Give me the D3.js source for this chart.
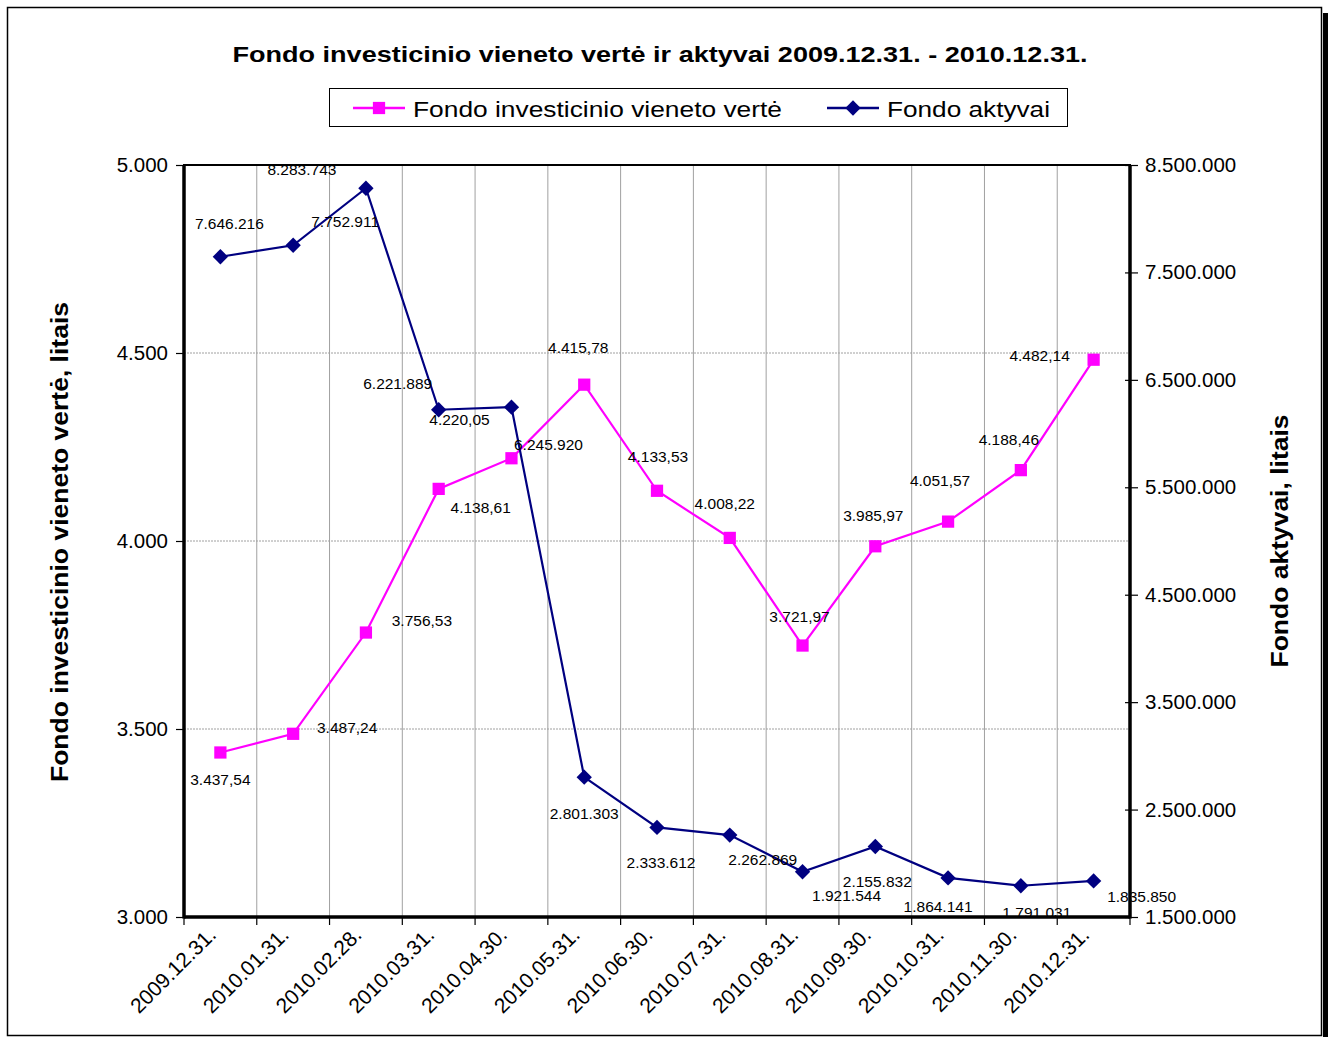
<!DOCTYPE html>
<html>
<head>
<meta charset="utf-8">
<script src="https://cdn.jsdelivr.net/npm/d3@7"></script>
<style>
  body { margin: 0; background: #fff; }
  text { font-family: "Liberation Sans", Arial, sans-serif; fill: #000; }
</style>
</head>
<body>
<div id="chart"></div>
<script>
// kategorijos ir reikšmės
const dates = ["2009.12.31.", "2010.01.31.", "2010.02.28.", "2010.03.31.", "2010.04.30.",
  "2010.05.31.", "2010.06.30.", "2010.07.31.", "2010.08.31.", "2010.09.30.",
  "2010.10.31.", "2010.11.30.", "2010.12.31."];
const unitValue = [3437.54, 3487.24, 3756.53, 4138.61, 4220.05, 4415.78, 4133.53,
  4008.22, 3721.97, 3985.97, 4051.57, 4188.46, 4482.14];
const assets = [7646216, 7752911, 8283743, 6221889, 6245920, 2801303, 2333612,
  2262869, 1921544, 2155832, 1864141, 1791031, 1835850];
const leftTicks = [3000, 3500, 4000, 4500, 5000];
const rightTicks = [1500000, 2500000, 3500000, 4500000, 5500000, 6500000, 7500000, 8500000];

// etikečių poslinkiai nuo taško (kaip originale, rankiniu būdu sustumdyti)
const valueLabelOffsets = [[0, 27], [54, -6], [56, -12], [42, 19], [-52, -39], [-6, -37],
  [1, -34], [-5, -34], [-3, -29], [-2, -31], [-8, -41], [-12, -31], [-54, -4]];
const assetLabelOffsets = [[9, -33], [52, -24], [-64, -19], [-41, -26], [37, 37], [0, 36],
  [4, 35], [33, 24], [44, 24], [2, 35], [-10, 29], [16, 27], [48, 16]];

const W = 1331, H = 1037;
const plot = { left: 184, right: 1130, top: 165, bottom: 917 };
const PINK = "#ff00ff", NAVY = "#000080";

const lt = d3.formatLocale({ decimal: ",", thousands: ".", grouping: [3], currency: ["", ""] });
const fmtInt = lt.format(",d");
const fmtDec = lt.format(",.2f");

const svg = d3.select("#chart").append("svg")
  .attr("width", W).attr("height", H);

// rėmelis su šešėliu
svg.append("rect").attr("x", 1323).attr("y", 13).attr("width", 5).attr("height", H - 13)
  .attr("fill", "#000");
svg.append("rect").attr("x", 7.5).attr("y", 7.5).attr("width", 1314).attr("height", 1028)
  .attr("fill", "#fff").attr("stroke", "#000").attr("stroke-width", 1.5);

const x = d3.scaleBand().domain(dates).range([plot.left, plot.right]).padding(0);
const yL = d3.scaleLinear().domain([3000, 5000]).range([plot.bottom, plot.top]);
const yR = d3.scaleLinear().domain([1500000, 8500000]).range([plot.bottom, plot.top]);
const cx = d => x(d) + x.bandwidth() / 2;

// tinklelis
const bounds = dates.map(d => x(d)).concat([plot.right]);
svg.append("g").selectAll("line").data(bounds.slice(1, -1)).join("line")
  .attr("x1", d => d).attr("x2", d => d)
  .attr("y1", plot.top).attr("y2", plot.bottom)
  .attr("stroke", "#a0a0a0").attr("stroke-width", 1);
svg.append("g").selectAll("line").data(leftTicks.slice(1, -1)).join("line")
  .attr("x1", plot.left).attr("x2", plot.right)
  .attr("y1", d => yL(d)).attr("y2", d => yL(d))
  .attr("stroke", "#a0a0a0").attr("stroke-width", 1).attr("stroke-dasharray", "2,1");

// ašys
const axisL = svg.append("g").attr("transform", `translate(${plot.left},0)`)
  .call(d3.axisLeft(yL).tickValues(leftTicks).tickFormat(fmtInt).tickSize(8).tickPadding(8));
const axisR = svg.append("g").attr("transform", `translate(${plot.right},0)`)
  .call(d3.axisRight(yR).tickValues(rightTicks).tickFormat(fmtInt).tickSize(8).tickPadding(7));
axisR.selectAll(".tick line").attr("x1", -5);
[axisL, axisR].forEach(g => {
  g.select(".domain").remove();
  g.selectAll(".tick line").attr("stroke", "#000").attr("stroke-width", 1.2);
  g.selectAll("text").attr("font-size", 20.5).attr("font-family", "Liberation Sans, Arial, sans-serif")
    .attr("fill", "#000");
});

// apatinės žymės ties kategorijų ribomis
svg.append("g").selectAll("line").data(bounds).join("line")
  .attr("x1", d => d).attr("x2", d => d)
  .attr("y1", plot.bottom).attr("y2", plot.bottom + 8)
  .attr("stroke", "#000").attr("stroke-width", 1.2);
svg.append("g").selectAll("text").data(dates).join("text")
  .attr("transform", d => `translate(${cx(d) - 3},${plot.bottom + 19}) rotate(-45)`)
  .attr("text-anchor", "end")
  .attr("font-size", 21)
  .text(d => d);

// braižymo srities kraštai
svg.append("rect").attr("x", plot.left).attr("y", plot.top)
  .attr("width", plot.right - plot.left).attr("height", plot.bottom - plot.top)
  .attr("fill", "none").attr("stroke", "#000").attr("stroke-width", 2);
svg.append("line").attr("x1", plot.left).attr("x2", plot.left)
  .attr("y1", plot.top).attr("y2", plot.bottom + 1.5).attr("stroke", "#000").attr("stroke-width", 3.5);
svg.append("line").attr("x1", plot.right).attr("x2", plot.right)
  .attr("y1", plot.top).attr("y2", plot.bottom + 1.5).attr("stroke", "#000").attr("stroke-width", 3.5);
svg.append("line").attr("x1", plot.left).attr("x2", plot.right)
  .attr("y1", plot.bottom).attr("y2", plot.bottom).attr("stroke", "#000").attr("stroke-width", 3.5);

// linijos
const lineVal = d3.line().x((d, i) => cx(dates[i])).y(d => yL(d));
const lineAss = d3.line().x((d, i) => cx(dates[i])).y(d => yR(d));
svg.append("path").datum(unitValue).attr("d", lineVal)
  .attr("fill", "none").attr("stroke", PINK).attr("stroke-width", 2.2);
svg.append("path").datum(assets).attr("d", lineAss)
  .attr("fill", "none").attr("stroke", NAVY).attr("stroke-width", 2.2);

const square = d3.symbol().type(d3.symbolSquare).size(150);
const diamond = d3.symbol().type(d3.symbolDiamond2).size(150);
svg.append("g").selectAll("path").data(unitValue).join("path")
  .attr("d", square)
  .attr("transform", (d, i) => `translate(${cx(dates[i])},${yL(d)})`)
  .attr("fill", PINK);
svg.append("g").selectAll("path").data(assets).join("path")
  .attr("d", diamond)
  .attr("transform", (d, i) => `translate(${cx(dates[i])},${yR(d)})`)
  .attr("fill", NAVY);

// duomenų etiketės
svg.append("g").selectAll("text").data(unitValue).join("text")
  .attr("x", (d, i) => cx(dates[i]) + valueLabelOffsets[i][0])
  .attr("y", (d, i) => yL(d) + valueLabelOffsets[i][1] + 5.5)
  .attr("text-anchor", "middle").attr("font-size", 15.5)
  .text(d => fmtDec(d));
svg.append("g").selectAll("text").data(assets).join("text")
  .attr("x", (d, i) => cx(dates[i]) + assetLabelOffsets[i][0])
  .attr("y", (d, i) => yR(d) + assetLabelOffsets[i][1] + 5.5)
  .attr("text-anchor", "middle").attr("font-size", 15.5)
  .text(d => fmtInt(d));

// pavadinimas
svg.append("text").attr("x", 660).attr("y", 62).attr("text-anchor", "middle")
  .attr("font-size", 22).attr("font-weight", "bold")
  .attr("textLength", 855).attr("lengthAdjust", "spacingAndGlyphs")
  .text("Fondo investicinio vieneto vertė  ir  aktyvai 2009.12.31. - 2010.12.31.");

// ašių pavadinimai
svg.append("text").attr("transform", "translate(68,542) rotate(-90)")
  .attr("text-anchor", "middle").attr("font-size", 23).attr("font-weight", "bold")
  .attr("textLength", 480).attr("lengthAdjust", "spacingAndGlyphs")
  .text("Fondo investicinio vieneto vertė, litais");
svg.append("text").attr("transform", "translate(1288,541) rotate(-90)")
  .attr("text-anchor", "middle").attr("font-size", 23).attr("font-weight", "bold")
  .attr("textLength", 253).attr("lengthAdjust", "spacingAndGlyphs")
  .text("Fondo aktyvai, litais");

// legenda
const legend = svg.append("g");
legend.append("rect").attr("x", 329.5).attr("y", 88.5).attr("width", 738).attr("height", 38)
  .attr("fill", "#fff").attr("stroke", "#000").attr("stroke-width", 1);
const legItems = [
  { name: "Fondo investicinio vieneto vertė", color: PINK, sym: square, x0: 353, tx: 413, tw: 369 },
  { name: "Fondo aktyvai", color: NAVY, sym: diamond, x0: 827, tx: 887, tw: 163 }
];
legItems.forEach(it => {
  legend.append("line").attr("x1", it.x0).attr("x2", it.x0 + 52)
    .attr("y1", 108).attr("y2", 108).attr("stroke", it.color).attr("stroke-width", 2.5);
  legend.append("path").attr("d", it.sym).attr("transform", `translate(${it.x0 + 26},108)`)
    .attr("fill", it.color);
  legend.append("text").attr("x", it.tx).attr("y", 117).attr("font-size", 22)
    .attr("textLength", it.tw).attr("lengthAdjust", "spacingAndGlyphs")
    .text(it.name);
});
</script>
</body>
</html>
